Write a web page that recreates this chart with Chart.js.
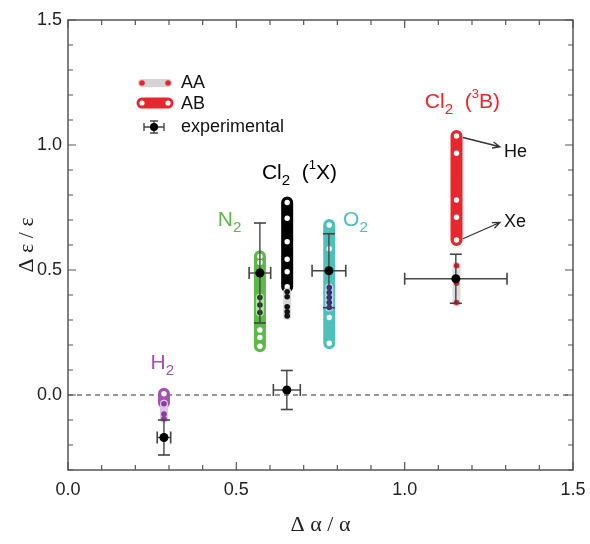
<!DOCTYPE html>
<html><head><meta charset="utf-8">
<script src="https://cdn.jsdelivr.net/npm/chart.js@4"></script>
<style>html,body{margin:0;padding:0;background:#fff}#wrap{width:590px;height:544px;position:relative}</style>
</head><body><div id="wrap"><canvas id="c"></canvas></div>
<script>
// ---- tick values / labels
const xTickValues = [0, 0.5, 1.0, 1.5];
const xTickLabels = ['0.0', '0.5', '1.0', '1.5'];
const yTickValues = [0, 0.5, 1.0, 1.5];
const yTickLabels = ['0.0', '0.5', '1.0', '1.5'];

// ---- molecules (categories) and their x position (Δα/α)
const molecules = ['H2', 'N2', 'Cl2 (1X)', 'O2', 'Cl2 (3B)'];
const molX = [0.285, 0.57, 0.651, 0.776, 1.154];

// ---- AB computed values (Δε/ε)
const abH2 = [0.005, -0.03];
const abN2 = [0.555, 0.53, 0.26, 0.23, 0.195];
const abCl2X = [0.77, 0.707, 0.613, 0.543, 0.493, 0.433];
const abO2 = [0.68, 0.585, 0.31, 0.207];
const abCl2B = [1.036, 0.967, 0.78, 0.711, 0.62];

// ---- AA computed values (Δε/ε)
const aaH2 = [-0.035, -0.076, -0.095];
const aaN2 = [0.39, 0.36, 0.33];
const aaCl2X = [0.413, 0.393, 0.353, 0.333, 0.316];
const aaO2 = [0.43, 0.41, 0.39, 0.37, 0.35];
const aaCl2B = [0.517, 0.447, 0.37];

// ---- experimental values with errors
const expX = [0.285, 0.57, 0.65, 0.775, 1.152];
const expY = [-0.17, 0.488, 0.02, 0.497, 0.465];
const expXErr = [0.02, 0.032, 0.04, 0.05, 0.152];
const expYErr = [0.07, 0.2, 0.078, 0.148, 0.098];

// ---- styles (kept separate from data)
const abSets = [abH2, abN2, abCl2X, abO2, abCl2B];
const aaSets = [aaH2, aaN2, aaCl2X, aaO2, aaCl2B];
const abColor = ['#a451b3', '#5cb848', '#000000', '#4fbfbb', '#e8262d'];
const aaBarColor = ['#dcc3e4', '#b4e0a6', '#d8d8d8', '#cfcfee', '#dcdcdc'];
const aaDotColor = ['#8a3aa0', '#1c3a18', '#111111', '#2a2a90', '#d8262d'];

const datasets = [];
// zero reference line
datasets.push({data: [{x: 0, y: 0}, {x: 1.5, y: 0}], showLine: true, borderColor: '#333', borderWidth: 1.2,
  borderDash: [5, 4], pointRadius: 0, order: 100});

molX.forEach((x, i) => {
  const ab = abSets[i], aa = aaSets[i];
  datasets.push({data: [{x, y: Math.max(...ab)}, {x, y: Math.min(...ab)}], showLine: true,
    borderColor: abColor[i], borderWidth: 12, borderCapStyle: 'round', pointRadius: 0, order: 50});
  datasets.push({data: ab.map(y => ({x, y})), showLine: false, pointRadius: 2.7, pointBorderWidth: 0,
    pointBackgroundColor: '#ffffff', order: 45});
  datasets.push({data: [{x, y: Math.max(...aa)}, {x, y: Math.min(...aa)}], showLine: true,
    borderColor: aaBarColor[i], borderWidth: 8, borderCapStyle: 'round', pointRadius: 0, order: 40});
  datasets.push({data: aa.map(y => ({x, y})), showLine: false, pointRadius: 2.8, pointBorderWidth: 0,
    pointBackgroundColor: aaDotColor[i], order: 35});
});

expX.forEach((x, i) => {
  const y = expY[i];
  datasets.push({data: [{x, y: y - expYErr[i]}, {x, y: y + expYErr[i]}], showLine: true,
    borderColor: '#444', borderWidth: 1.4, pointStyle: 'line', pointRadius: 6, pointBorderWidth: 1.6,
    pointBorderColor: '#444', order: 20});
  datasets.push({data: [{x: x - expXErr[i], y}, {x: x + expXErr[i], y}], showLine: true,
    borderColor: '#444', borderWidth: 1.4, pointStyle: 'line', pointRotation: 90, pointRadius: 6,
    pointBorderWidth: 1.6, pointBorderColor: '#444', order: 20});
});
datasets.push({data: expX.map((x, i) => ({x, y: expY[i]})), showLine: false, pointRadius: 4.5,
  pointBackgroundColor: '#000', pointBorderWidth: 0, order: 10});

// ---- text annotations anchored in data coordinates
const annotations = [
  {parts: [['H', 0], ['2', 1]], x: 0.245, y: 0.128, color: '#a451b3', size: 21},
  {parts: [['N', 0], ['2', 1]], x: 0.445, y: 0.70, color: '#5cb848', size: 21},
  {parts: [['Cl', 0], ['2', 1], ['  (', 0], ['1', 2], ['X)', 0]], x: 0.576, y: 0.888, color: '#000', size: 21},
  {parts: [['O', 0], ['2', 1]], x: 0.817, y: 0.70, color: '#4fbfbb', size: 21},
  {parts: [['Cl', 0], ['2', 1], ['  (', 0], ['3', 2], ['B)', 0]], x: 1.06, y: 1.172, color: '#e8262d', size: 21},
  {parts: [['He', 0]], x: 1.295, y: 0.972, color: '#111', size: 18},
  {parts: [['Xe', 0]], x: 1.295, y: 0.692, color: '#111', size: 18}
];
const arrows = [
  {x1: 1.173, y1: 1.03, x2: 1.283, y2: 0.993},
  {x1: 1.173, y1: 0.625, x2: 1.283, y2: 0.69}
];

const FONT = "'Liberation Sans', Arial, sans-serif";

const framePlugin = {
  id: 'frame',
  afterDatasetsDraw(chart) {
    const {ctx, chartArea: a, scales: {x: sx, y: sy}} = chart;
    ctx.save();
    ctx.strokeStyle = '#555'; ctx.lineWidth = 1.5;
    ctx.strokeRect(a.left, a.top, a.right - a.left, a.bottom - a.top);
    ctx.lineWidth = 1.2;
    for (let k = 0; k <= 15; k++) {
      const v = k / 10, L = (k % 5 === 0) ? 8 : 5, px = sx.getPixelForValue(v);
      ctx.beginPath(); ctx.moveTo(px, a.bottom); ctx.lineTo(px, a.bottom - L);
      ctx.moveTo(px, a.top); ctx.lineTo(px, a.top + L); ctx.stroke();
    }
    for (let k = -3; k <= 15; k++) {
      const v = k / 10, L = (k % 5 === 0) ? 8 : 5, py = sy.getPixelForValue(v);
      ctx.beginPath(); ctx.moveTo(a.left, py); ctx.lineTo(a.left + L, py);
      ctx.moveTo(a.right, py); ctx.lineTo(a.right - L, py); ctx.stroke();
    }
    // annotations
    ctx.textBaseline = 'middle'; ctx.textAlign = 'left';
    annotations.forEach(an => {
      let px = sx.getPixelForValue(an.x); const py = sy.getPixelForValue(an.y);
      ctx.fillStyle = an.color;
      an.parts.forEach(([t, m]) => {
        const s = m === 0 ? an.size : (m === 1 ? an.size * 0.72 : an.size * 0.62);
        const dy = m === 0 ? 0 : (m === 1 ? an.size * 0.38 : -an.size * 0.35);
        ctx.font = s + 'px ' + FONT;
        ctx.fillText(t, px, py + dy);
        px += ctx.measureText(t).width;
      });
    });
    // arrows
    ctx.strokeStyle = '#333'; ctx.lineWidth = 1.3;
    arrows.forEach(ar => {
      const x1 = sx.getPixelForValue(ar.x1), y1 = sy.getPixelForValue(ar.y1);
      const x2 = sx.getPixelForValue(ar.x2), y2 = sy.getPixelForValue(ar.y2);
      const ang = Math.atan2(y2 - y1, x2 - x1), h = 8;
      ctx.beginPath(); ctx.moveTo(x1, y1); ctx.lineTo(x2, y2);
      ctx.moveTo(x2 - h * Math.cos(ang - 0.4), y2 - h * Math.sin(ang - 0.4)); ctx.lineTo(x2, y2);
      ctx.lineTo(x2 - h * Math.cos(ang + 0.4), y2 - h * Math.sin(ang + 0.4));
      ctx.stroke();
    });
    // legend
    ctx.lineCap = 'round';
    ctx.strokeStyle = '#d4d4d4'; ctx.lineWidth = 8;
    ctx.beginPath(); ctx.moveTo(142, 83); ctx.lineTo(168, 83); ctx.stroke();
    ctx.fillStyle = '#e8262d';
    [142, 168].forEach(x => { ctx.beginPath(); ctx.arc(x, 83, 2.8, 0, Math.PI * 2); ctx.fill(); });
    ctx.strokeStyle = '#e8262d'; ctx.lineWidth = 11;
    ctx.beginPath(); ctx.moveTo(142, 103); ctx.lineTo(168, 103); ctx.stroke();
    ctx.fillStyle = '#fff';
    [142, 168].forEach(x => { ctx.beginPath(); ctx.arc(x, 103, 2.6, 0, Math.PI * 2); ctx.fill(); });
    ctx.lineCap = 'butt';
    ctx.strokeStyle = '#444'; ctx.lineWidth = 1.4;
    ctx.beginPath();
    ctx.moveTo(144, 127); ctx.lineTo(164, 127);
    ctx.moveTo(144, 123); ctx.lineTo(144, 131); ctx.moveTo(164, 123); ctx.lineTo(164, 131);
    ctx.moveTo(154, 121); ctx.lineTo(154, 133);
    ctx.moveTo(150, 121); ctx.lineTo(158, 121); ctx.moveTo(150, 133); ctx.lineTo(158, 133);
    ctx.stroke();
    ctx.fillStyle = '#000'; ctx.beginPath(); ctx.arc(154, 127, 4, 0, Math.PI * 2); ctx.fill();
    ctx.fillStyle = '#111'; ctx.font = '18px ' + FONT;
    ctx.fillText('AA', 181, 83); ctx.fillText('AB', 181, 104); ctx.fillText('experimental', 181, 127);
    ctx.restore();
  }
};

new Chart(document.getElementById('c'), {
  type: 'scatter',
  data: {datasets},
  options: {
    responsive: true, maintainAspectRatio: false, animation: false,
    layout: {padding: {top: 20, right: 17, left: 0, bottom: 0}},
    plugins: {legend: {display: false}, tooltip: {enabled: false}},
    scales: {
      x: {
        type: 'linear', min: 0, max: 1.5,
        afterBuildTicks: s => { s.ticks = xTickValues.map(v => ({value: v})); },
        afterFit: s => { s.height = 74; s.paddingRight = 0; s.paddingLeft = 0; },
        grid: {display: false, drawTicks: false}, border: {display: false},
        ticks: {callback: (v) => xTickLabels[xTickValues.indexOf(v)], font: {size: 18, family: FONT},
          color: '#222', padding: 9, maxRotation: 0},
        title: {display: true, text: 'Δ α / α', font: {size: 22, family: "'Liberation Serif', 'Times New Roman', serif"},
          color: '#222', padding: {top: 0, bottom: 6}}
      },
      y: {
        type: 'linear', min: -0.3, max: 1.5,
        afterBuildTicks: s => { s.ticks = yTickValues.map(v => ({value: v})); },
        afterFit: s => { s.width = 68; s.paddingTop = 0; s.paddingBottom = 0; },
        grid: {display: false, drawTicks: false}, border: {display: false},
        ticks: {callback: (v) => yTickLabels[yTickValues.indexOf(v)], font: {size: 18, family: FONT},
          color: '#222', padding: 6},
        title: {display: true, text: 'Δ ε / ε', font: {size: 22, family: "'Liberation Serif', 'Times New Roman', serif"},
          color: '#222', padding: {top: 14, bottom: 0}}
      }
    }
  },
  plugins: [framePlugin]
});
</script>
</body></html>
